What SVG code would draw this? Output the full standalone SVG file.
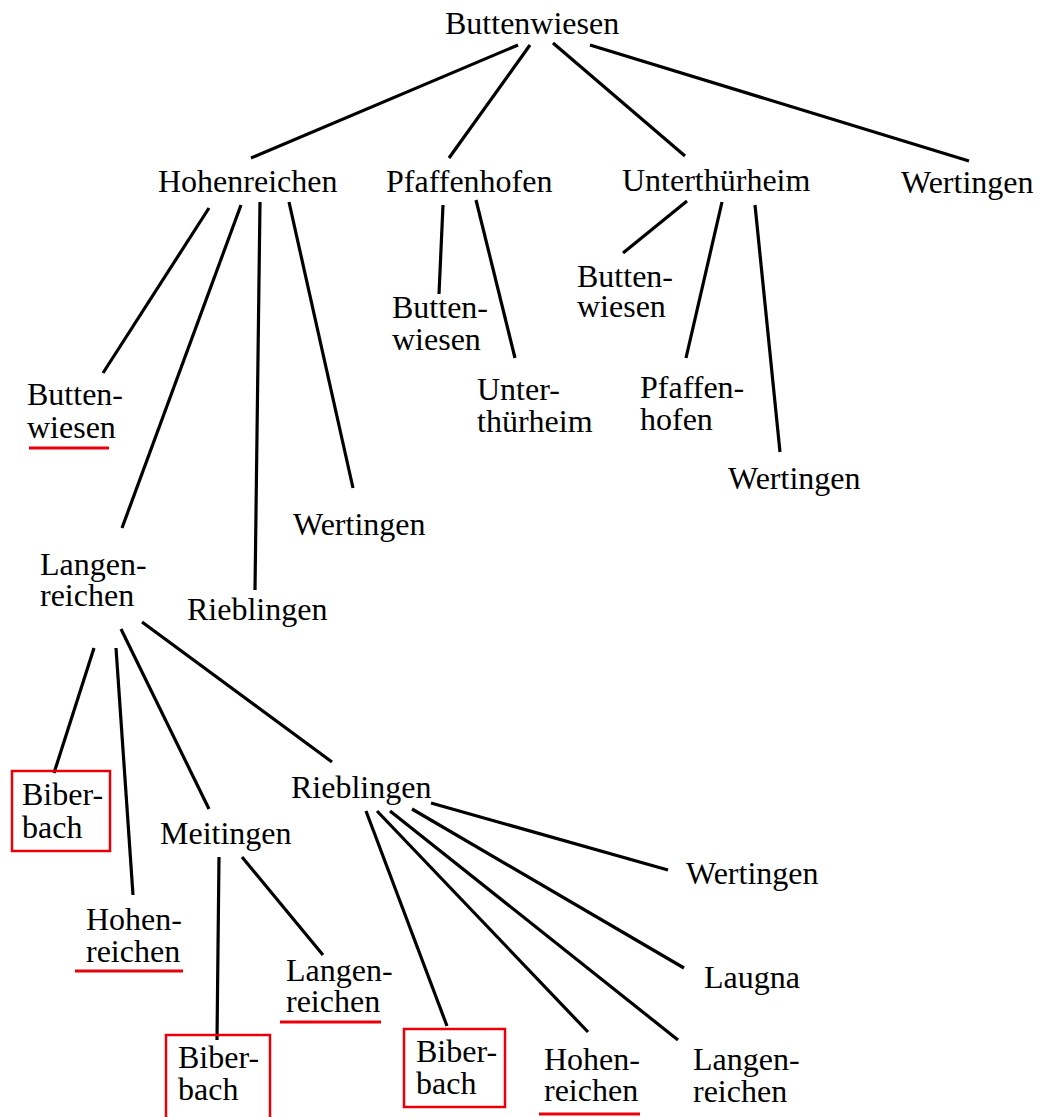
<svg xmlns="http://www.w3.org/2000/svg" width="1041" height="1117" viewBox="0 0 1041 1117">
<style>
text{font-family:"Liberation Serif","Times New Roman",serif;font-size:32px;fill:#000}
.e line{stroke:#000;stroke-width:3.2;stroke-linecap:butt}
.box{fill:none;stroke:#e8000b;stroke-width:2.5}
.ul{stroke:#e8000b;stroke-width:3}
</style>
<rect width="1041" height="1117" fill="#fff"/>
<g id="connectors" class="e">
<line x1="518" y1="45" x2="251" y2="158"/>
<line x1="530" y1="45" x2="449" y2="158"/>
<line x1="553" y1="43" x2="685" y2="156"/>
<line x1="590" y1="45" x2="969" y2="161"/>
<line x1="209" y1="208" x2="103" y2="373"/>
<line x1="241" y1="205" x2="122" y2="528"/>
<line x1="260" y1="202" x2="255" y2="590"/>
<line x1="289" y1="202" x2="353" y2="488"/>
<line x1="443" y1="205" x2="439" y2="294"/>
<line x1="476" y1="200" x2="515" y2="358"/>
<line x1="687" y1="201" x2="623" y2="253"/>
<line x1="722" y1="202" x2="686" y2="358"/>
<line x1="755" y1="205" x2="780" y2="452"/>
<line x1="94" y1="648" x2="54" y2="773"/>
<line x1="116" y1="648" x2="133" y2="895"/>
<line x1="121" y1="629" x2="209" y2="809"/>
<line x1="142" y1="622" x2="332" y2="762"/>
<line x1="219" y1="857" x2="217" y2="1040"/>
<line x1="242" y1="857" x2="323" y2="955"/>
<line x1="366" y1="811" x2="447" y2="1026"/>
<line x1="377" y1="811" x2="588" y2="1032"/>
<line x1="390" y1="811" x2="678" y2="1040"/>
<line x1="412" y1="809" x2="684" y2="968"/>
<line x1="431" y1="803" x2="668" y2="870"/>
</g>
<g id="n1"><text x="445" y="34">Buttenwiesen</text></g>
<g id="n2"><text x="158" y="192">Hohenreichen</text></g>
<g id="n3"><text x="386" y="192">Pfaffenhofen</text></g>
<g id="n4"><text x="622" y="191">Unterthürheim</text></g>
<g id="n5"><text x="901" y="193">Wertingen</text></g>
<g id="n6"><text x="27" y="405">Butten-<tspan x="27" dy="33">wiesen</tspan></text><line class="ul" x1="29" y1="448" x2="109" y2="448"/></g>
<g id="n7"><text x="40" y="575">Langen-<tspan x="40" dy="31">reichen</tspan></text></g>
<g id="n8"><text x="187" y="620">Rieblingen</text></g>
<g id="n9"><text x="293" y="535">Wertingen</text></g>
<g id="n10"><text x="392" y="318">Butten-<tspan x="392" dy="32">wiesen</tspan></text></g>
<g id="n11"><text x="477" y="400">Unter-<tspan x="477" dy="32">thürheim</tspan></text></g>
<g id="n12"><text x="577" y="287">Butten-<tspan x="577" dy="30">wiesen</tspan></text></g>
<g id="n13"><text x="640" y="398">Pfaffen-<tspan x="640" dy="32">hofen</tspan></text></g>
<g id="n14"><text x="728" y="489">Wertingen</text></g>
<g id="n15"><rect class="box" x="12" y="771" width="98" height="80"/><text x="22" y="805">Biber-<tspan x="22" dy="33">bach</tspan></text></g>
<g id="n16"><text x="86" y="930">Hohen-<tspan x="86" dy="32">reichen</tspan></text><line class="ul" x1="75" y1="971" x2="183" y2="971"/></g>
<g id="n17"><text x="160" y="844">Meitingen</text></g>
<g id="n18"><text x="291" y="798">Rieblingen</text></g>
<g id="n19"><text x="286" y="981">Langen-<tspan x="286" dy="31">reichen</tspan></text><line class="ul" x1="280" y1="1022" x2="381" y2="1022"/></g>
<g id="n20"><rect class="box" x="166" y="1035" width="104" height="90"/><text x="178" y="1068">Biber-<tspan x="178" dy="32">bach</tspan></text></g>
<g id="n21"><rect class="box" x="404" y="1029" width="101" height="78"/><text x="416" y="1062">Biber-<tspan x="416" dy="32">bach</tspan></text></g>
<g id="n22"><text x="544" y="1070">Hohen-<tspan x="544" dy="31">reichen</tspan></text><line class="ul" x1="539" y1="1114" x2="640" y2="1114"/></g>
<g id="n23"><text x="693" y="1070">Langen-<tspan x="693" dy="32">reichen</tspan></text></g>
<g id="n24"><text x="686" y="884">Wertingen</text></g>
<g id="n25"><text x="704" y="988">Laugna</text></g>
</svg>
